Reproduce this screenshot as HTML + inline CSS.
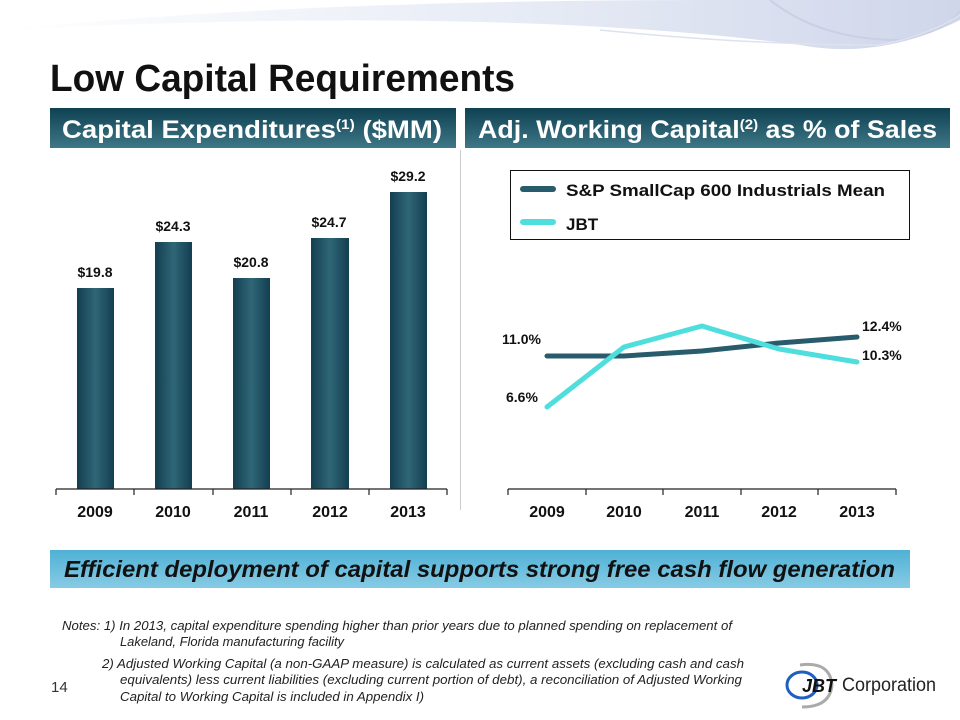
<!DOCTYPE html>
<html><head><meta charset="utf-8"><style>
body{margin:0;width:960px;height:720px;background:#fff;position:relative;overflow:hidden;font-family:"Liberation Sans",sans-serif}
</style></head><body>
<svg width="960" height="720" style="position:absolute;left:0;top:0;font-family:'Liberation Sans',sans-serif">
<defs>
<linearGradient id="sw" x1="0" x2="1"><stop offset="0" stop-color="#fff"/><stop offset="0.6" stop-color="#e4e9f4"/><stop offset="1" stop-color="#cfd6ea"/></linearGradient>
<linearGradient id="hd" x1="0" y1="0" x2="0" y2="1"><stop offset="0" stop-color="#0f4152"/><stop offset="1" stop-color="#3e7787"/></linearGradient>
<linearGradient id="bn" x1="0" y1="0" x2="0" y2="1"><stop offset="0" stop-color="#4fb1d5"/><stop offset="1" stop-color="#87cbe5"/></linearGradient>
<linearGradient id="bg" x1="0" x2="1"><stop offset="0" stop-color="#133f50"/><stop offset="0.5" stop-color="#2f6677"/><stop offset="1" stop-color="#133f50"/></linearGradient>
</defs>
<path d="M0 30 Q300 0 700 0 L960 0 L960 20 Q880 60 800 45 Q500 5 0 30Z" fill="url(#sw)"/>
<path d="M770 0 Q820 40 900 40 Q950 30 960 10" fill="none" stroke="#c9d0e5" stroke-width="2"/>
<path d="M600 30 Q750 45 880 45 Q930 35 960 15" fill="none" stroke="#dde2ef" stroke-width="1.5"/>

<text x="50" y="91" font-size="38" font-weight="bold" fill="#111" textLength="465" lengthAdjust="spacingAndGlyphs">Low Capital Requirements</text>

<rect x="50" y="108" width="406" height="40" fill="url(#hd)"/>
<rect x="465" y="108" width="485" height="40" fill="url(#hd)"/>
<text x="62" y="138" font-size="25" font-weight="bold" fill="#fff" textLength="380" lengthAdjust="spacingAndGlyphs">Capital Expenditures<tspan font-size="14" dy="-9">(1)</tspan><tspan dy="9">  ($MM)</tspan></text>
<text x="478" y="138" font-size="25" font-weight="bold" fill="#fff" textLength="459" lengthAdjust="spacingAndGlyphs">Adj. Working Capital<tspan font-size="14" dy="-9">(2)</tspan><tspan dy="9"> as % of Sales</tspan></text>

<line x1="460.5" y1="150" x2="460.5" y2="510" stroke="#ccc"/>

<rect x="77" y="288" width="37" height="201" fill="url(#bg)"/>
<rect x="155" y="242" width="37" height="247" fill="url(#bg)"/>
<rect x="233" y="278" width="37" height="211" fill="url(#bg)"/>
<rect x="311" y="238" width="38" height="251" fill="url(#bg)"/>
<rect x="390" y="192" width="37" height="297" fill="url(#bg)"/>
<g font-size="14" font-weight="bold" text-anchor="middle" fill="#111">
<text x="95" y="277">$19.8</text><text x="173" y="231">$24.3</text><text x="251" y="267">$20.8</text><text x="329" y="227">$24.7</text><text x="408" y="181">$29.2</text>
</g>
<g stroke="#222" stroke-width="1.2"><line x1="56" y1="489" x2="447" y2="489"/>
<line x1="56" y1="489" x2="56" y2="495"/><line x1="134" y1="489" x2="134" y2="495"/><line x1="213" y1="489" x2="213" y2="495"/><line x1="291" y1="489" x2="291" y2="495"/><line x1="369" y1="489" x2="369" y2="495"/><line x1="447" y1="489" x2="447" y2="495"/>
<line x1="508" y1="489" x2="896" y2="489"/>
<line x1="508" y1="489" x2="508" y2="495"/><line x1="586" y1="489" x2="586" y2="495"/><line x1="663" y1="489" x2="663" y2="495"/><line x1="741" y1="489" x2="741" y2="495"/><line x1="818" y1="489" x2="818" y2="495"/><line x1="896" y1="489" x2="896" y2="495"/></g>
<g font-size="16" font-weight="bold" text-anchor="middle" fill="#111">
<text x="95" y="517">2009</text><text x="173" y="517">2010</text><text x="251" y="517">2011</text><text x="330" y="517">2012</text><text x="408" y="517">2013</text>
<text x="547" y="517">2009</text><text x="624" y="517">2010</text><text x="702" y="517">2011</text><text x="779" y="517">2012</text><text x="857" y="517">2013</text>
</g>
<rect x="510.5" y="170.5" width="399" height="69" fill="none" stroke="#111" stroke-width="1"/>
<line x1="523" y1="189" x2="553" y2="189" stroke="#285c6c" stroke-width="6" stroke-linecap="round"/>
<line x1="523" y1="222" x2="553" y2="222" stroke="#4fdede" stroke-width="6" stroke-linecap="round"/>
<text x="566" y="196" font-size="17" font-weight="bold" fill="#111" textLength="319" lengthAdjust="spacingAndGlyphs">S&amp;P SmallCap 600 Industrials Mean</text>
<text x="566" y="230" font-size="17" font-weight="bold" fill="#111">JBT</text>
<polyline points="547,356 624,356 702,351 779,343 857,337" fill="none" stroke="#285c6c" stroke-width="5" stroke-linecap="round" stroke-linejoin="round"/>
<polyline points="547,407 624,347 702,326 779,349 857,362" fill="none" stroke="#4fdede" stroke-width="5" stroke-linecap="round" stroke-linejoin="round"/>
<g font-size="14" font-weight="bold" fill="#111"><text x="502" y="344">11.0%</text><text x="506" y="402">6.6%</text><text x="862" y="331">12.4%</text><text x="862" y="360">10.3%</text></g>

<rect x="50" y="550" width="860" height="38" fill="url(#bn)"/>
<text x="64" y="577" font-size="23" font-weight="bold" font-style="italic" fill="#111" textLength="831" lengthAdjust="spacingAndGlyphs">Efficient deployment of capital supports strong free cash flow generation</text>

<g font-size="13" font-style="italic" fill="#222">
<text x="62" y="630" textLength="670" lengthAdjust="spacingAndGlyphs">Notes: 1) In 2013, capital expenditure  spending higher than prior years due to planned spending on replacement  of</text>
<text x="120" y="646" textLength="224" lengthAdjust="spacingAndGlyphs">Lakeland, Florida manufacturing facility</text>
<text x="102" y="668" textLength="642" lengthAdjust="spacingAndGlyphs">2) Adjusted Working Capital (a non-GAAP measure) is calculated as current assets (excluding cash and cash</text>
<text x="120" y="684" textLength="622" lengthAdjust="spacingAndGlyphs">equivalents) less current liabilities (excluding  current portion of debt), a reconciliation of Adjusted Working</text>
<text x="120" y="701" textLength="304" lengthAdjust="spacingAndGlyphs">Capital to Working Capital is included in Appendix I)</text>
</g>
<text x="51" y="692" font-size="15" fill="#333">14</text>

<g transform="translate(780,655)">
<ellipse cx="22" cy="30" rx="15" ry="13" fill="none" stroke="#1f5fbf" stroke-width="3"/>
<path d="M20 10 Q50 6 52 30 Q50 52 22 52" fill="none" stroke="#aaa" stroke-width="3"/>
<text x="22" y="37" font-weight="bold" font-style="italic" font-size="18" fill="#111" textLength="34" lengthAdjust="spacingAndGlyphs">JBT</text>
<text x="62" y="36" font-size="19" fill="#222" textLength="94" lengthAdjust="spacingAndGlyphs">Corporation</text>
</g>
</svg>
</body></html>
